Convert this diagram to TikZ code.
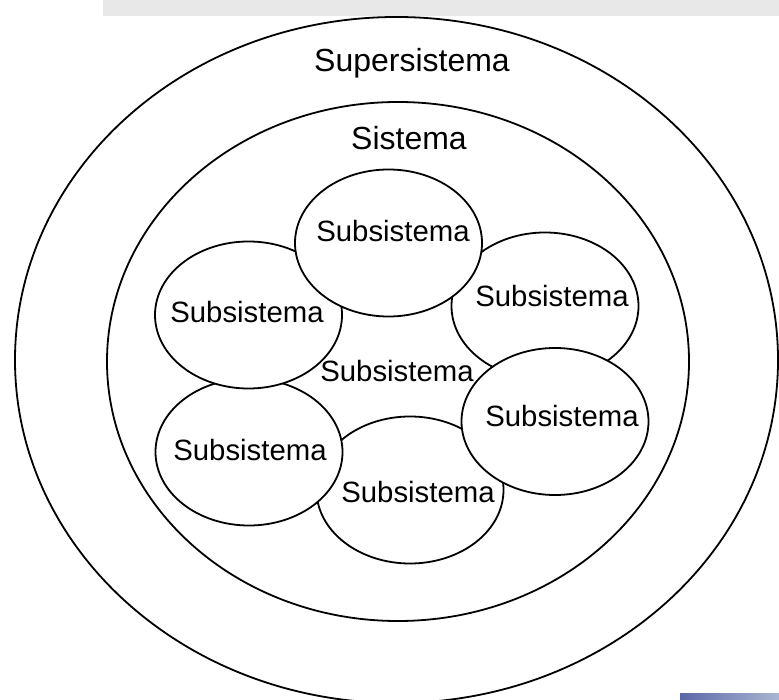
\documentclass[tikz,border=0pt]{standalone}
\usepackage{fontspec}
\setmainfont{Liberation Sans}
\usetikzlibrary{shapes.geometric}
\definecolor{bandGray}{HTML}{E8E8E8}
\definecolor{barBlueL}{HTML}{5A68A8}
\definecolor{barBlueR}{HTML}{AAB6D2}

\begin{document}
\begin{tikzpicture}[
      x=0.2mm,y=-0.2mm,
      ring/.style={ellipse,draw=black,line width=0.36mm,fill=white,inner sep=0pt},
      sub/.style={ring,minimum width=37.4mm,minimum height=29.4mm},
      lbl/.style={anchor=base,inner sep=0pt,font=\fontsize{18.2}{22}\selectfont},
      sublbl/.style={anchor=base,inner sep=0pt,font=\fontsize{16.7}{20}\selectfont}
    ]
    \useasboundingbox (0,0) rectangle (779,700);
    \fill[bandGray] (103,0) rectangle (779,16);
    \shade[left color=barBlueL,right color=barBlueR] (680,693) rectangle (779,700);
    \node[ring,minimum width=152.6mm,minimum height=137.2mm] (super) at (396.5,360) {};
    \node[ring,minimum width=116.4mm,minimum height=103.8mm] (sis) at (398,361.5) {};
    \node[sub] (sub6) at (410,490) {};
    \node[sub] (sub5) at (249,452) {};
    \node[sub] (sub3) at (545,306) {};
    \node[sub] (sub4) at (555,421.5) {};
    \node[sub] (sub2) at (248.5,315) {};
    \node[sub] (sub1) at (388.5,243) {};
    \node[lbl] (lsuper) at (412,71.5) {Supersistema};
    \node[lbl] (lsis) at (409,150) {Sistema};
    \node[sublbl] (lsub1) at (393,242) {Subsistema};
    \node[sublbl] (lsub2) at (247,323) {Subsistema};
    \node[sublbl] (lsub3) at (552,307) {Subsistema};
    \node[sublbl] (lsub4) at (562,427) {Subsistema};
    \node[sublbl] (lsub5) at (250,460) {Subsistema};
    \node[sublbl] (lsub6) at (418,502) {Subsistema};
    \node[sublbl] (lsub0) at (397,382) {Subsistema};
  \end{tikzpicture}
\end{document}
